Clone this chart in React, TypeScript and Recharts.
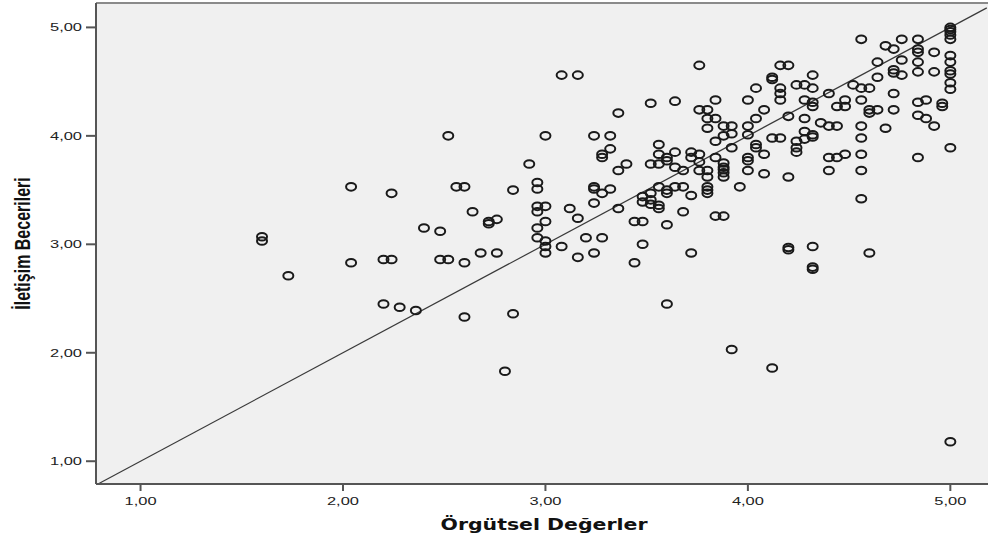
import { CartesianGrid, Label, ReferenceLine, Scatter, ScatterChart, XAxis, YAxis } from "recharts";

// Örgütsel Değerler (x) and İletişim Becerileri (y)
const orgutselDegerler = [
  // left / low part
  1.6, 1.6, 1.73, 2.04, 2.04, 2.24, 2.2, 2.24, 2.48, 2.52, 2.6, 2.68, 2.76, 2.4, 2.48,
  2.52, 2.56, 2.6, 2.64, 2.72, 2.72, 2.76, 2.84, 2.2, 2.28, 2.36, 2.6, 2.84, 2.8, 2.92,
  // 3.0 - 3.7 upper
  3.08, 3.16, 3.36, 3.52, 3.64, 3.0, 3.24, 3.32,
  // 3.0 - 3.7 middle
  3.32, 3.28, 3.28, 3.4, 3.36, 3.56, 3.64, 3.52, 3.56, 3.6,
  3.6, 3.56, 3.64, 3.68, 3.72, 3.72, 2.96, 2.96, 3.24, 3.24,
  3.28, 3.32, 3.24, 3.12, 3.16, 3.36, 2.96, 3.0, 2.96, 3.0,
  2.96, 2.96, 3.0, 3.0, 3.0, 3.08, 3.2, 3.28, 3.16, 3.24,
  3.48, 3.44, 3.44, 3.48, 3.6, 3.68, 3.48, 3.48, 3.52, 3.52,
  3.52, 3.56, 3.56, 3.56, 3.6, 3.6, 3.64, 3.68, 3.72, 3.72,
  // 3.7 - 4.5 upper
  3.76, 4.16, 4.2, 4.12, 4.12, 4.32, 4.04, 4.16, 4.16, 4.16,
  4.24, 4.28, 4.32, 3.84, 4.0, 3.76, 3.8, 4.08, 4.28, 4.32,
  4.32, 4.4, 4.44, 4.48, 4.48, 3.8, 3.84, 3.8, 3.88, 3.92,
  3.88, 3.92, 4.0, 4.0, 4.04, 4.2, 4.28, 4.28, 4.32, 4.36,
  4.4, 4.44, 4.12, 4.16, 4.24,
  // 3.7 - 4.5 middle
  3.84, 3.76, 3.76, 3.84, 3.92, 4.04, 4.04, 4.08, 4.0, 4.0,
  4.0, 4.08, 4.28, 4.32, 4.24, 4.24, 4.2, 4.4, 4.44, 4.48,
  4.4, 3.76, 3.8, 3.8, 3.88, 3.88, 3.88, 3.88, 3.88, 3.8,
  3.8, 3.8, 3.96, 3.84, 3.88, 4.2, 4.2, 4.32, 4.32, 4.32,
  // 4.5 - 5.0 upper
  4.56, 4.68, 4.72, 4.76, 4.84, 4.84, 4.84, 4.92, 5.0, 5.0,
  5.0, 5.0, 5.0, 5.0, 5.0, 5.0, 5.0, 5.0, 5.0, 4.64,
  4.76, 4.84, 4.72, 4.72, 4.76, 4.84, 4.92, 4.64, 4.52, 4.56,
  4.6, 4.56, 4.72, 4.6, 4.6, 4.64, 4.72, 4.84, 4.88, 4.96,
  4.96, 4.84, 4.88, 4.92, 4.56, 4.68, 4.56,
  // right middle and the low outliers
  4.56, 4.56, 4.56, 4.6, 4.84, 5.0, 3.6, 3.92, 4.12, 5.0,
];

const iletisimBecerileri = [
  3.07, 3.03, 2.71, 3.53, 2.83, 3.47, 2.86, 2.86, 2.86, 2.86, 2.83, 2.92, 2.92, 3.15, 3.12,
  4.0, 3.53, 3.53, 3.3, 3.21, 3.19, 3.23, 3.5, 2.45, 2.42, 2.39, 2.33, 2.36, 1.83, 3.74,
  4.56, 4.56, 4.21, 4.3, 4.32, 4.0, 4.0, 4.0,
  3.88, 3.83, 3.8, 3.74, 3.68, 3.92, 3.85, 3.74, 3.74, 3.8,
  3.77, 3.83, 3.71, 3.68, 3.8, 3.85, 3.57, 3.51, 3.53, 3.51,
  3.47, 3.51, 3.38, 3.33, 3.24, 3.33, 3.35, 3.35, 3.3, 3.21,
  3.15, 3.06, 3.03, 2.98, 2.92, 2.98, 3.06, 3.06, 2.88, 2.92,
  3.0, 2.83, 3.21, 3.21, 3.18, 3.3, 3.44, 3.39, 3.47, 3.41,
  3.37, 3.36, 3.33, 3.53, 3.5, 3.47, 3.53, 3.53, 3.45, 2.92,
  4.65, 4.65, 4.65, 4.54, 4.52, 4.56, 4.44, 4.44, 4.39, 4.33,
  4.47, 4.47, 4.44, 4.33, 4.33, 4.24, 4.24, 4.24, 4.33, 4.31,
  4.27, 4.39, 4.27, 4.27, 4.33, 4.16, 4.16, 4.07, 4.09, 4.09,
  4.0, 4.02, 4.01, 4.09, 4.16, 4.18, 4.16, 4.04, 4.01, 4.12,
  4.09, 4.09, 3.98, 3.98, 3.95,
  3.95, 3.83, 3.76, 3.8, 3.89, 3.92, 3.89, 3.83, 3.8, 3.77,
  3.68, 3.65, 3.97, 3.99, 3.89, 3.85, 3.62, 3.8, 3.8, 3.83,
  3.68, 3.68, 3.68, 3.62, 3.75, 3.71, 3.69, 3.66, 3.62, 3.53,
  3.5, 3.47, 3.53, 3.26, 3.26, 2.97, 2.95, 2.98, 2.79, 2.77,
  4.89, 4.83, 4.8, 4.89, 4.89, 4.8, 4.77, 4.77, 5.0, 4.98,
  4.96, 4.93, 4.89, 4.74, 4.68, 4.6, 4.57, 4.49, 4.43, 4.68,
  4.7, 4.68, 4.61, 4.58, 4.56, 4.59, 4.59, 4.54, 4.47, 4.44,
  4.44, 4.33, 4.39, 4.24, 4.21, 4.24, 4.24, 4.31, 4.33, 4.3,
  4.27, 4.19, 4.16, 4.09, 4.09, 4.07, 3.98,
  3.83, 3.68, 3.42, 2.92, 3.8, 3.89, 2.45, 2.03, 1.86, 1.18,
];

const axisTicks = [1, 2, 3, 4, 5];
const xDomain = [0.78, 5.186];
const yDomain = [0.79, 5.225];

const data = orgutselDegerler.map((x, i) => ({ x, y: iletisimBecerileri[i] }));

const fmt = (v: number) => v.toFixed(2).replace(".", ",");

const XTick = (p: any) => (
  <text x={p.x} y={p.y + 12} textAnchor="middle" fontFamily="Liberation Sans" fontSize={11.5} fill="#222"
    textLength={32} lengthAdjust="spacingAndGlyphs">
    {fmt(p.payload.value)}
  </text>
);

const YTick = (p: any) => (
  <text x={p.x - 18} y={p.y + 4} textAnchor="middle" fontFamily="Liberation Sans" fontSize={11.5} fill="#222"
    textLength={32} lengthAdjust="spacingAndGlyphs">
    {fmt(p.payload.value)}
  </text>
);

const Ring = (p: any) => (
  <ellipse cx={p.cx} cy={p.cy} rx={5} ry={3.8} fill="none" stroke="#1a1a1a" strokeWidth={2} />
);

export default function App() {
  return (
    <div style={{ position: "absolute", left: 0, top: 0, width: 988, height: 540, background: "#fff" }}>
      <ScatterChart width={988} height={540} margin={{ top: 3, right: 0, bottom: 0, left: 0 }}>
        <CartesianGrid horizontal={false} vertical={false} fill="#f0f0f0" />
        <XAxis
          type="number"
          dataKey="x"
          domain={xDomain}
          ticks={axisTicks}
          allowDataOverflow
          height={56}
          tickSize={7}
          axisLine={{ stroke: "#555", strokeWidth: 2 }}
          tickLine={{ stroke: "#555", strokeWidth: 2 }}
          tick={XTick}
        >
          <Label
            content={(props: any) => {
              const vb = props.viewBox || { x: 96, y: 484, width: 892 };
              return (
                <text x={vb.x + vb.width / 2 + 2} y={vb.y + 46} textAnchor="middle" fontFamily="DejaVu Sans"
                  fontWeight="bold" fontSize={15.5} fill="#111" textLength={207} lengthAdjust="spacingAndGlyphs">
                  Örgütsel Değerler
                </text>
              );
            }}
          />
        </XAxis>
        <YAxis
          type="number"
          dataKey="y"
          domain={yDomain}
          ticks={axisTicks}
          allowDataOverflow
          width={96}
          tickSize={10}
          axisLine={{ stroke: "#555", strokeWidth: 2 }}
          tickLine={{ stroke: "#555", strokeWidth: 2 }}
          tick={YTick}
        >
          <Label
            content={(props: any) => {
              const vb = props.viewBox || { x: 0, y: 3, width: 96, height: 481 };
              const cx = 23;
              const cy = vb.y + vb.height / 2;
              return (
                <text transform={`translate(${cx},${cy}) scale(1.35,1) rotate(-90)`} x={0} y={5.5}
                  textAnchor="middle" fontFamily="Liberation Sans" fontWeight="bold" fontSize={16} fill="#111">
                  İletişim Becerileri
                </text>
              );
            }}
          />
        </YAxis>
        <ReferenceLine y={yDomain[1]} stroke="#8a8a8a" strokeWidth={2} />
        <ReferenceLine
          segment={[{ x: 0.79, y: 0.79 }, { x: 5.18, y: 5.18 }]}
          stroke="#3a3a3a"
          strokeWidth={1.2}
        />
        <Scatter data={data} shape={Ring} isAnimationActive={false} />
      </ScatterChart>
    </div>
  );
}
